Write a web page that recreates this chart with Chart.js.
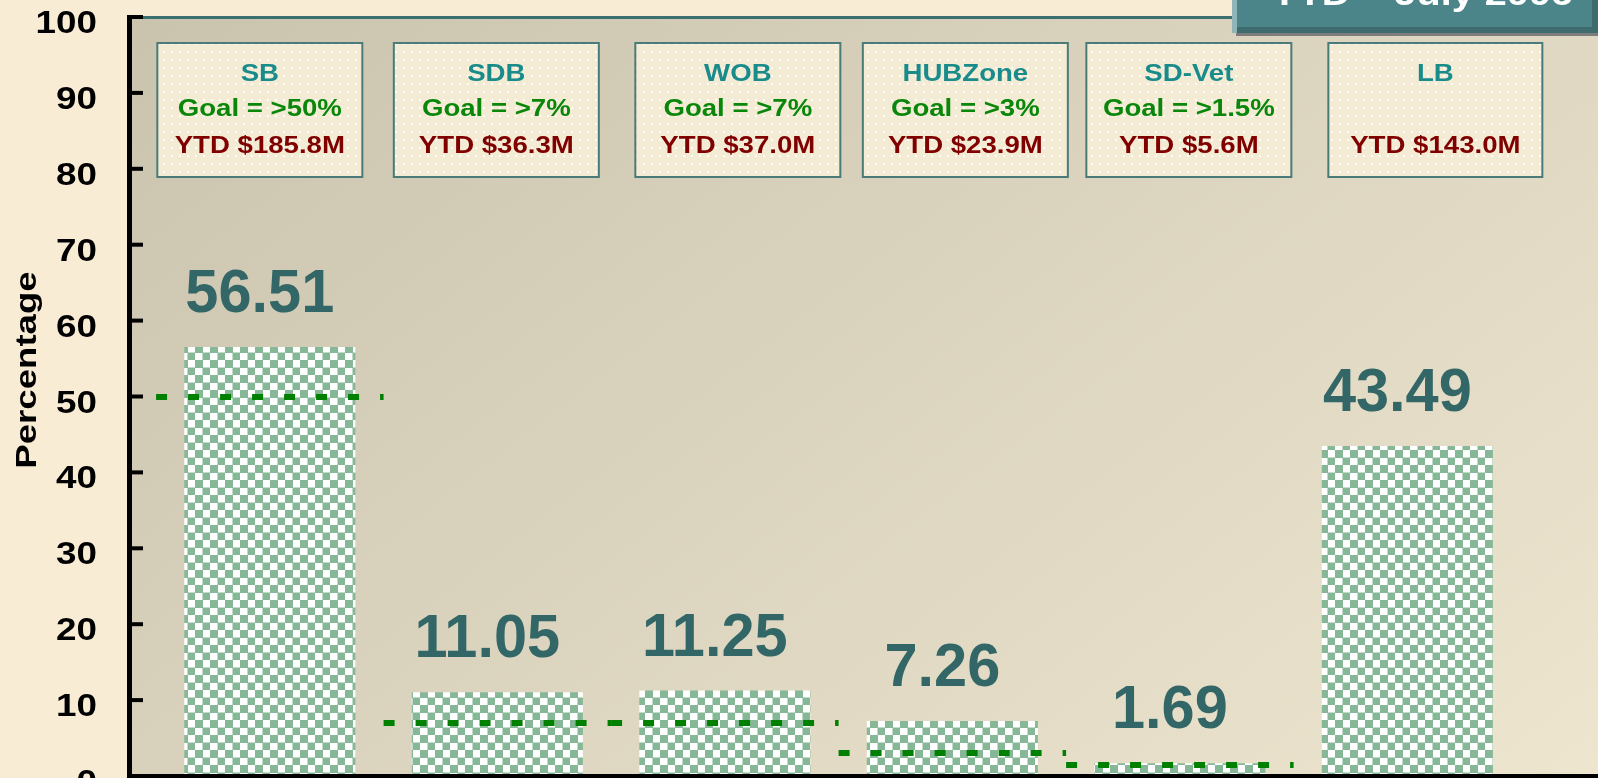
<!DOCTYPE html>
<html>
<head>
<meta charset="utf-8">
<title>Small Business Goals YTD</title>
<script src="https://cdn.jsdelivr.net/npm/chart.js@4.4.1/dist/chart.umd.min.js"></script>
<style>
  html, body { margin: 0; padding: 0; overflow: hidden; background: #f8ecd5; }
  canvas { display: block; }
</style>
</head>
<body>
<canvas id="chart" width="1598" height="778"></canvas>
<script>
// data
const categories = ["SB", "SDB", "WOB", "HUBZone", "SD-Vet", "LB"];
const percentages = [56.51, 11.05, 11.25, 7.26, 1.69, 43.49];
const goalValues = [50, 7, 7, 3, 1.5, null];
const goalLabels = ["Goal = >50%", "Goal = >7%", "Goal = >7%", "Goal = >3%", "Goal = >1.5%", ""];
const ytdLabels = ["YTD $185.8M", "YTD $36.3M", "YTD $37.0M", "YTD $23.9M", "YTD $5.6M", "YTD $143.0M"];
const yTicks = [0, 10, 20, 30, 40, 50, 60, 70, 80, 90, 100];
const axisTitle = "Percentage";
const titleText = "YTD \u2013 July 2006";

// layout bits (not data)
const boxShift = [-10, -1, 13, 13, 9, 28];
const FONT = '"Liberation Sans", Arial, sans-serif';

const canvas = document.getElementById("chart");
const ctx = canvas.getContext("2d");

function makePattern(size, draw) {
  const c = document.createElement("canvas");
  c.width = size; c.height = size;
  draw(c.getContext("2d"));
  return ctx.createPattern(c, "repeat");
}

const checker = makePattern(15, g => {
  g.fillStyle = "#ffffff"; g.fillRect(0, 0, 15, 15);
  g.fillStyle = "#86b898";
  g.fillRect(0, 0, 8, 8);
  g.fillRect(7.5, 7.5, 8, 8);
  g.fillRect(7.5, -0.5, 0, 0);
});

const dots = makePattern(8, g => {
  g.fillStyle = "#f3ebd4"; g.fillRect(0, 0, 8, 8);
  g.fillStyle = "rgba(255,255,255,0.9)"; g.fillRect(3, 3, 2, 2);
});

function text(c, str, x, y, size, color, sx, align) {
  c.save();
  c.font = "bold " + size + "px " + FONT;
  c.fillStyle = color;
  c.textAlign = align || "center";
  c.textBaseline = "alphabetic";
  c.translate(x, y);
  c.scale(sx, 1);
  c.fillText(str, 0, 0);
  c.restore();
}

const slidePlugin = {
  id: "slide",
  beforeDraw(chart) {
    const c = chart.ctx, a = chart.chartArea;
    c.save();
    c.fillStyle = "#f8ecd5";
    c.fillRect(0, 0, chart.width, chart.height);
    const g = c.createLinearGradient(a.left, a.top, a.left + 1074, a.top + 1384);
    g.addColorStop(0, "#cac3ae");
    g.addColorStop(1, "#f3ebd4");
    c.fillStyle = g;
    c.fillRect(a.left, a.top, a.right - a.left, a.bottom - a.top);

    // label boxes over each category
    const meta = chart.getDatasetMeta(0);
    meta.data.forEach((bar, i) => {
      const w = i === 5 ? 214 : 205, h = 134, top = a.top + 26;
      const cx = bar.x + boxShift[i];
      c.fillStyle = dots;
      c.fillRect(cx - w / 2, top, w, h);
      c.strokeStyle = "#4a7b79";
      c.lineWidth = 2;
      c.strokeRect(cx - w / 2, top, w, h);
      text(c, categories[i], cx, top + 38, 24, "#1a8b8b", 1.15);
      if (goalLabels[i]) text(c, goalLabels[i], cx, top + 73, 24, "#0a870a", 1.15);
      text(c, ytdLabels[i], cx, top + 110, 24, "#800000", 1.15);
    });
    c.restore();
  },
  afterDatasetsDraw(chart) {
    const c = chart.ctx, a = chart.chartArea;
    const xs = chart.scales.x, ys = chart.scales.y;
    const meta = chart.getDatasetMeta(0);
    c.save();

    // goal dashes
    c.strokeStyle = "#008000";
    c.lineWidth = 6;
    c.setLineDash([11, 21]);
    goalValues.forEach((goal, i) => {
      if (goal == null) return;
      const y = Math.round(ys.getPixelForValue(goal));
      c.beginPath();
      c.moveTo(xs.getPixelForValue(i - 0.5), y);
      c.lineTo(xs.getPixelForValue(i + 0.5), y);
      c.stroke();
    });
    c.setLineDash([]);

    // values above bars
    meta.data.forEach((bar, i) => {
      text(c, percentages[i].toFixed(2), bar.x - 10, bar.y - 35, 62, "#336666", 0.96);
    });

    // frame: teal top, black axes
    c.fillStyle = "#3b6f70";
    c.fillRect(a.left, a.top - 1, a.right - a.left, 3);
    c.fillStyle = "#000000";
    c.fillRect(a.left - 2, a.top - 2, 5, a.bottom - a.top + 4);
    c.fillRect(a.left - 2, a.bottom - 2, a.right - a.left + 2, 4);

    // y ticks (pointing inward) and labels
    yTicks.forEach(v => {
      const y = ys.getPixelForValue(v);
      c.fillRect(a.left, y - 2, 14, 4);
      text(c, String(v), a.left - 32, y + 16, 32, "#000000", 1.15, "right");
    });

    // axis title
    c.save();
    c.translate(36, 370);
    c.rotate(-Math.PI / 2);
    text(c, axisTitle, 0, 0, 30, "#000000", 1.22);
    c.restore();

    // slide title box, mostly off the top edge
    const bx = 1232, bw = chart.width - bx, bh = 33;
    c.fillStyle = "#7d7d7d";
    c.fillRect(bx + 4, bh - 1, bw - 4, 4);
    c.fillStyle = "#4b8489";
    c.fillRect(bx, 0, bw, bh);
    c.fillStyle = "#8fb5b8";
    c.fillRect(bx, 0, 5, bh);
    c.fillStyle = "#3e6b6e";
    c.fillRect(bx + 5, bh - 6, bw - 5, 6);
    c.fillRect(bx + bw - 6, 0, 6, bh);
    text(c, titleText, 1422, 5, 33, "#ffffff", 1.2);

    c.restore();
  }
};

new Chart(ctx, {
  type: "bar",
  data: {
    datasets: [{
      label: axisTitle,
      data: percentages.map((v, i) => ({ x: i, y: v })),
      backgroundColor: checker,
      borderWidth: 0,
      barPercentage: 0.752,
      categoryPercentage: 1
    }]
  },
  options: {
    responsive: false,
    animation: false,
    layout: { padding: { left: 129, top: 17, right: 0, bottom: 2 } },
    scales: {
      x: {
        type: "linear",
        display: false,
        offset: false,
        min: -0.619,
        max: 5.838,
        ticks: { stepSize: 1, includeBounds: false }
      },
      y: { display: false, min: 0, max: 100 }
    },
    plugins: {
      legend: { display: false },
      tooltip: {
        callbacks: {
          title: items => categories[items[0].dataIndex],
          label: item => item.parsed.y + "%"
        }
      }
    }
  },
  plugins: [slidePlugin]
});
</script>
</body>
</html>
